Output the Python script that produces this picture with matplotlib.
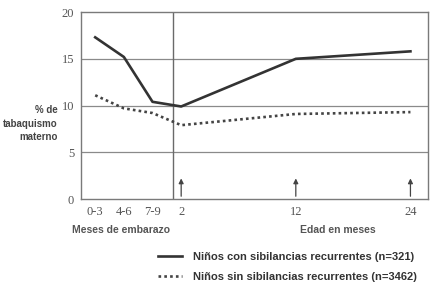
import matplotlib
matplotlib.use("Agg")
from matplotlib import pyplot as plt

x_labels = ['0-3', '4-6', '7-9', '2', '12', '24']
x_pos = [0, 1, 2, 3, 7, 11]
con_sib = [17.3, 15.2, 10.4, 9.9, 15.0, 15.8]
sin_sib = [11.1, 9.7, 9.2, 7.9, 9.1, 9.3]
arrow_pos = [3, 7, 11]

narrow = ['Liberation Sans', 'DejaVu Sans']
serif = ['Liberation Serif', 'DejaVu Serif']

fig = plt.figure(figsize=(4.34, 2.88), dpi=100)
ax = fig.add_axes([0.187, 0.309, 0.799, 0.649])

for v in [5, 10, 15]:
    ax.axhline(v, color='#8a8a8a', lw=0.9, zorder=1)
ax.axvline(2.72, color='#6a6a6a', lw=1.0, zorder=1)

ax.plot(x_pos, con_sib, color='#333333', lw=1.9, zorder=3,
        label='Niños con sibilancias recurrentes (n=321)')
ax.plot(x_pos, sin_sib, color='#444444', lw=1.9, ls=(0, (1, 1.2)), zorder=3,
        label='Niños sin sibilancias recurrentes (n=3462)')

for p in arrow_pos:
    ax.annotate('', xy=(p, 2.5), xytext=(p, 0),
                arrowprops=dict(arrowstyle='-|>', color='#444444', lw=0.9,
                                mutation_scale=7))

ax.set_xlim(-0.49, 11.61)
ax.set_ylim(0, 20)
ax.set_yticks([0, 5, 10, 15, 20])
ax.set_xticks(x_pos)
ax.set_xticklabels(x_labels)
ax.tick_params(length=0, labelsize=9, labelcolor='#555555', pad=5)
for t in ax.get_xticklabels() + ax.get_yticklabels():
    t.set_family(serif)
for s in ax.spines.values():
    s.set_color('#7a7a7a')
    s.set_linewidth(1.0)

fig.text(0.132, 0.57, '% de\ntabaquismo\nmaterno', ha='right', va='center',
         fontsize=7, fontweight='bold', color='#444444', family=narrow,
         linespacing=1.45)
fig.text(0.166, 0.2, 'Meses de embarazo', ha='left', va='center',
         fontsize=7.5, fontweight='bold', color='#555555', family=narrow)
fig.text(0.691, 0.2, 'Edad en meses', ha='left', va='center',
         fontsize=7.5, fontweight='bold', color='#555555', family=narrow)

leg = fig.legend(loc='upper left', bbox_to_anchor=(0.34, 0.16), frameon=False,
                 handlelength=2.2, handletextpad=1.0, labelspacing=0.9,
                 prop={'family': narrow, 'weight': 'bold', 'size': 8})
for t in leg.get_texts():
    t.set_color('#333333')

fig.savefig('out.png', dpi=100)
